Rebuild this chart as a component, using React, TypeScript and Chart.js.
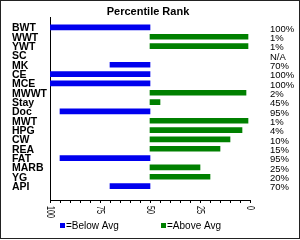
import React, { useEffect, useRef } from 'react';
import { Chart, registerables } from 'chart.js';

Chart.register(...registerables);

const categories = ['BWT', 'WWT', 'YWT', 'SC', 'MK', 'CE', 'MCE', 'MWWT', 'Stay', 'Doc', 'MWT', 'HPG', 'CW', 'REA', 'FAT', 'MARB', 'YG', 'API'];
const percentiles: (number | null)[] = [100, 1, 1, null, 70, 100, 100, 2, 45, 95, 1, 4, 10, 15, 95, 25, 20, 70];
const rankLabels = ['100%', '1%', '1%', 'N/A', '70%', '100%', '100%', '2%', '45%', '95%', '1%', '4%', '10%', '15%', '95%', '25%', '20%', '70%'];
const axisTickLabels = [100, 75, 50, 25, 0];
const averageValue = 50;
const seriesNames = ['=Below Avg', '=Above Avg'];
const seriesColors = ['#0000ee', '#008000'];
const titleText = 'Percentile Rank';

const FONT = "'Liberation Sans', Arial, sans-serif";

const belowData = percentiles
  .map((v, i) => (v !== null && v > averageValue ? { x: [averageValue, v], y: i } : null))
  .filter(Boolean);
const aboveData = percentiles
  .map((v, i) => (v !== null && v < averageValue ? { x: [averageValue, v], y: i } : null))
  .filter(Boolean);

const decor = {
  id: 'decor',
  beforeDraw(chart: any) {
    const { ctx, width, height } = chart;
    ctx.save();
    ctx.fillStyle = '#ffffff';
    ctx.fillRect(0, 0, width, height);
    ctx.restore();
  },
  afterDraw(chart: any) {
    const { ctx } = chart;
    const xs = chart.scales.x;
    ctx.save();
    ctx.strokeStyle = '#222';
    ctx.lineWidth = 1;
    ctx.strokeRect(0.5, 0.5, 299, 238);

    ctx.fillStyle = '#000';
    ctx.font = `bold 11px ${FONT}`;
    ctx.textAlign = 'center';
    ctx.textBaseline = 'alphabetic';
    ctx.fillText(titleText, 148, 15);

    ctx.font = `10px ${FONT}`;
    for (const v of axisTickLabels) {
      const px = xs.getPixelForValue(v);
      ctx.save();
      ctx.translate(px, 206);
      ctx.rotate(Math.PI / 2);
      ctx.scale(0.72, 1);
      ctx.textAlign = 'left';
      ctx.textBaseline = 'middle';
      ctx.fillText(String(v), 0, 0);
      ctx.restore();
    }

    ctx.font = `10px ${FONT}`;
    ctx.textAlign = 'left';
    ctx.textBaseline = 'alphabetic';
    chart.data.datasets.forEach((ds: any, i: number) => {
      const bx = i === 0 ? 60 : 161;
      ctx.fillStyle = ds.backgroundColor;
      ctx.fillRect(bx, 223, 5, 5);
      ctx.fillStyle = '#000';
      ctx.fillText(ds.label, bx + 6, 229);
    });
    ctx.restore();
  },
};

const yTicks = (scale: any) => {
  scale.ticks = categories.map((_, i) => ({ value: i }));
};

export default function App() {
  const ref = useRef<HTMLCanvasElement>(null);
  useEffect(() => {
    if (!ref.current) return;
    const chart = new Chart(ref.current, {
      type: 'bar',
      data: {
        datasets: [
          { label: seriesNames[0], data: belowData as any, backgroundColor: seriesColors[0], borderWidth: 0 },
          { label: seriesNames[1], data: aboveData as any, backgroundColor: seriesColors[1], borderWidth: 0 },
        ],
      },
      options: {
        responsive: false,
        animation: false,
        devicePixelRatio: 1,
        indexAxis: 'y',
        datasets: { bar: { grouped: false, barThickness: 5 } } as any,
        layout: { padding: { left: 12, top: 15.5, right: 0, bottom: 0 } },
        plugins: { legend: { display: false }, tooltip: { enabled: false }, title: { display: false } },
        scales: {
          x: {
            type: 'linear',
            position: 'bottom',
            min: 0,
            max: 100,
            reverse: true,
            afterBuildTicks: (scale: any) => {
              const t = [];
              for (let v = 0; v <= 100; v += 5) t.push({ value: v });
              scale.ticks = t;
            },
            afterFit: (scale: any) => { scale.height = 40; },
            ticks: { display: false },
            grid: { drawOnChartArea: false, drawTicks: true, tickLength: 3, color: '#000' },
            border: { color: '#000' },
          },
          y: {
            type: 'linear',
            position: 'left',
            min: -0.5,
            max: 17.95,
            reverse: true,
            afterBuildTicks: yTicks,
            afterFit: (scale: any) => { scale.width = 38; },
            ticks: {
              autoSkip: false,
              crossAlign: 'far',
              labelOffset: 1,
              color: '#000',
              font: { family: FONT, size: 10.5, weight: 'bold' },
              callback: (v: any) => categories[v as number] ?? '',
            },
            grid: { display: false },
            border: { color: '#000' },
          },
          y2: {
            type: 'linear',
            axis: 'y',
            position: 'right',
            min: -0.5,
            max: 17.95,
            reverse: true,
            afterBuildTicks: yTicks,
            afterFit: (scale: any) => { scale.width = 50; },
            ticks: {
              autoSkip: false,
              padding: 12,
              labelOffset: 1.5,
              color: '#000',
              font: { family: FONT, size: 9.5 },
              callback: (v: any) => rankLabels[v as number] ?? '',
            },
            grid: { display: false },
            border: { display: false },
          },
        } as any,
      },
      plugins: [decor],
    });
    return () => chart.destroy();
  }, []);
  return (
    <div style={{ position: 'absolute', left: 0, top: 0, width: 300, height: 240 }}>
      <canvas ref={ref} width={300} height={240} />
    </div>
  );
}
